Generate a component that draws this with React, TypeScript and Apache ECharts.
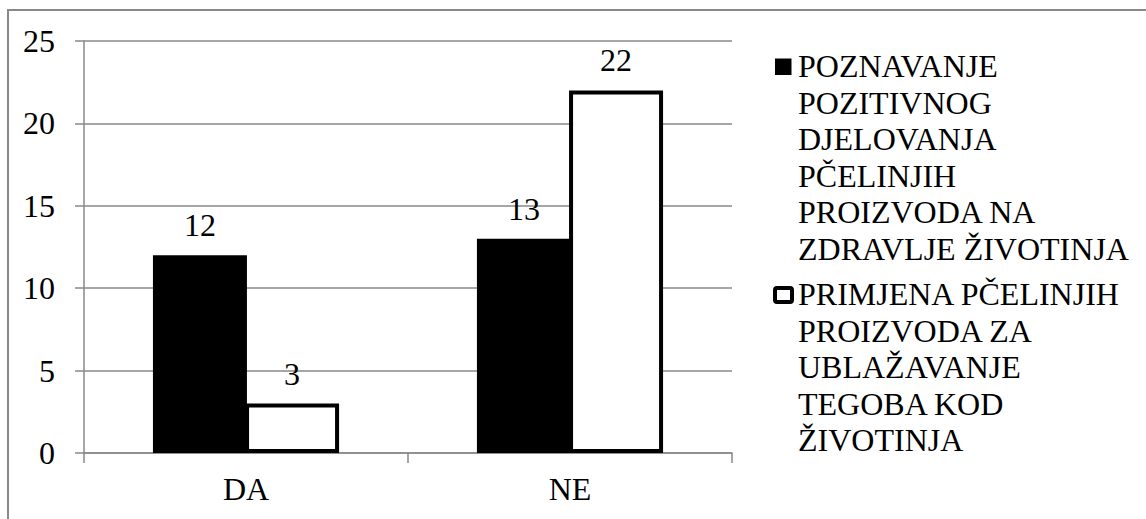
import React, { useEffect, useRef } from "react";
import * as echarts from "echarts";

const categories = ["DA", "NE"];
const seriesNames = [
  "POZNAVANJE POZITIVNOG DJELOVANJA PČELINJIH PROIZVODA NA ZDRAVLJE ŽIVOTINJA",
  "PRIMJENA PČELINJIH PROIZVODA ZA UBLAŽAVANJE TEGOBA KOD ŽIVOTINJA",
];
const legendLines = [
  ["POZNAVANJE", "POZITIVNOG", "DJELOVANJA", "PČELINJIH", "PROIZVODA NA", "ZDRAVLJE ŽIVOTINJA"],
  ["PRIMJENA PČELINJIH", "PROIZVODA ZA", "UBLAŽAVANJE", "TEGOBA KOD", "ŽIVOTINJA"],
];
const knowledgeValues = [12, 13];
const applicationValues = [3, 22];
const yMin = 0;
const yMax = 25;
const yInterval = 5;

const FONT = "Liberation Serif";
const GRAY = "#898989";

export default function App() {
  const ref = useRef<HTMLDivElement>(null);

  useEffect(() => {
    if (!ref.current) return;
    const chart = echarts.init(ref.current, undefined, { renderer: "svg" });
    const labelStyle = {
      show: true,
      position: "top" as const,
      distance: 14,
      fontSize: 32,
      fontFamily: FONT,
      color: "#000",
    };
    chart.setOption({
      animation: false,
      backgroundColor: "#fff",
      textStyle: { fontFamily: FONT },
      grid: { left: 84, top: 41, right: 414, bottom: 66, containLabel: false },
      legend: { show: false },
      xAxis: {
        type: "category",
        data: categories,
        axisLine: { show: true, lineStyle: { color: GRAY, width: 1.5 } },
        axisTick: { show: true, length: 10, lineStyle: { color: GRAY, width: 1.5 } },
        axisLabel: { fontSize: 32, fontFamily: FONT, color: "#000", margin: 20 },
      },
      yAxis: {
        type: "value",
        min: yMin,
        max: yMax,
        interval: yInterval,
        axisLine: { show: true, lineStyle: { color: GRAY, width: 1.5 } },
        axisTick: { show: true, length: 9, lineStyle: { color: GRAY, width: 1.5 } },
        axisLabel: { fontSize: 32, fontFamily: FONT, color: "#000", margin: 29 },
        splitLine: { show: true, lineStyle: { color: GRAY, width: 1.5 } },
      },
      series: [
        {
          name: seriesNames[0],
          type: "bar",
          data: knowledgeValues,
          barWidth: 94,
          barGap: "-2%",
          itemStyle: { color: "#000" },
          label: labelStyle,
        },
        {
          name: seriesNames[1],
          type: "bar",
          data: applicationValues,
          barWidth: 94,
          barGap: "-2%",
          itemStyle: { color: "#fff", borderColor: "#000", borderWidth: 4 },
          label: labelStyle,
        },
      ],
      graphic: [
        {
          type: "rect",
          silent: true,
          shape: { x: 8, y: 10, width: 1300, height: 700 },
          style: { fill: "none", stroke: GRAY, lineWidth: 2 },
          z: 100,
        },
        {
          type: "rect",
          shape: { x: 775, y: 58.5, width: 16.5, height: 16.5 },
          style: { fill: "#000" },
        },
        {
          type: "text",
          x: 798,
          y: 47.75,
          style: {
            text: legendLines[0].join("\n"),
            fontSize: 32,
            fontFamily: FONT,
            fill: "#000",
            lineHeight: 36.5,
            verticalAlign: "top",
            align: "left",
          },
        },
        {
          type: "rect",
          shape: { x: 775, y: 288, width: 17, height: 14, r: 2 },
          style: { fill: "#fff", stroke: "#000", lineWidth: 4 },
        },
        {
          type: "text",
          x: 798,
          y: 275.75,
          style: {
            text: legendLines[1].join("\n"),
            fontSize: 32,
            fontFamily: FONT,
            fill: "#000",
            lineHeight: 36.5,
            verticalAlign: "top",
            align: "left",
          },
        },
      ],
    });
    return () => chart.dispose();
  }, []);

  return (
    <div
      ref={ref}
      style={{ position: "fixed", left: 0, top: 0, width: 1146, height: 519, background: "#fff" }}
    />
  );
}
